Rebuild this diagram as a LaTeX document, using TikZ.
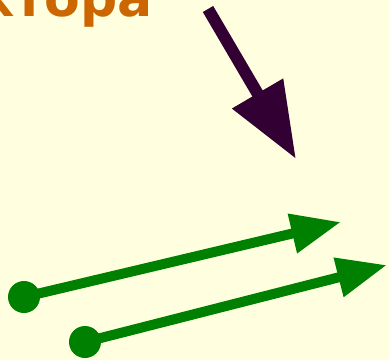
\documentclass[tikz,border=0pt]{standalone}
\usepackage{fontspec}
\setmainfont{DejaVu Sans}
\usetikzlibrary{arrows.meta}
\definecolor{bgyellow}{HTML}{FFFFE0}
\definecolor{titleorange}{HTML}{CC6600}
\definecolor{darkplum}{HTML}{330033}
\definecolor{vecgreen}{HTML}{008000}
\tikzset{
	dot/.style={circle, fill=vecgreen, inner sep=0pt, minimum size=32pt},
	vec/.style={vecgreen, line width=10pt, -{Triangle[length=50pt, width=38pt]}},
	pointer/.style={darkplum, line width=12pt, -{Triangle[length=76pt, width=56pt]}}
}
\begin{document}
\begin{tikzpicture}[x=1pt, y=-1pt]
	\fill[bgyellow] (0,0) rectangle (389,360);
	\useasboundingbox (0,0) rectangle (389,360);
	
	\node[anchor=base east, inner sep=0pt, text=titleorange, font=\fontsize{52}{56}\selectfont\bfseries] (title) at (153,16) {ктора};
	
	\coordinate (p1) at (208,9);
	\coordinate (p2) at (296,159);
	\draw[pointer] (p1) -- (p2);
	
	\node[dot] (a1) at (24,297) {};
	\coordinate (b1) at (341,222);
	\draw[vec] (a1.center) -- (b1);
	
	\node[dot] (a2) at (85,342) {};
	\coordinate (b2) at (387,265);
	\draw[vec] (a2.center) -- (b2);
\end{tikzpicture}
\end{document}
